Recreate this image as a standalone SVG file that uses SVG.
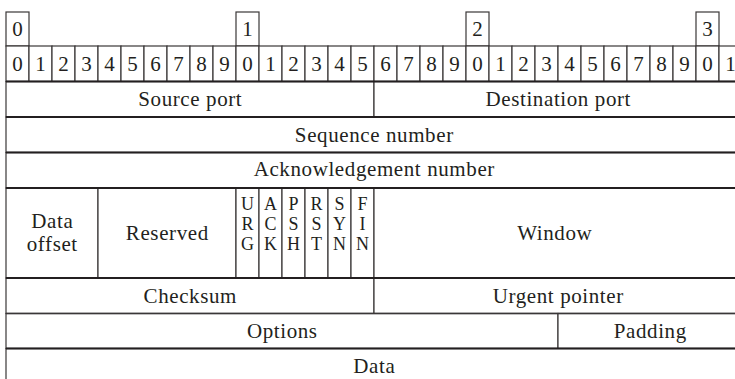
<svg xmlns="http://www.w3.org/2000/svg" width="735" height="379" viewBox="0 0 735 379">
  <style>
    text { font-family: "Liberation Serif", "Times New Roman", serif; font-size: 21px; fill: #231f20; text-anchor: middle; letter-spacing: 0.6px; }
    .num { letter-spacing: 0; }
    .flag { letter-spacing: 0; font-size: 18px; }
    .cell { fill: #ffffff; stroke: #3a3738; stroke-width: 1.2; }
    .rule { stroke: #231f20; stroke-width: 2; fill: none; }
    .rule-thin { stroke: #3a3738; stroke-width: 1.3; fill: none; }
  </style>
  <rect x="0" y="0" width="735" height="379" fill="#ffffff"/>

  <!-- octet markers -->
  <g id="marker-0"><rect class="cell" x="6" y="12" width="23" height="34"/><text class="num" x="17.5" y="36">0</text></g>
  <g id="marker-1"><rect class="cell" x="236" y="12" width="23" height="34"/><text class="num" x="247.5" y="36">1</text></g>
  <g id="marker-2"><rect class="cell" x="466" y="12" width="23" height="34"/><text class="num" x="477.5" y="36">2</text></g>
  <g id="marker-3"><rect class="cell" x="696" y="12" width="23" height="34"/><text class="num" x="707.5" y="36">3</text></g>

  <!-- bit index row -->
  <g id="bit-index">
    <rect class="cell" x="6" y="46" width="23" height="35.5"/><text class="num" x="17.5" y="71">0</text>
    <rect class="cell" x="29" y="46" width="23" height="35.5"/><text class="num" x="40.5" y="71">1</text>
    <rect class="cell" x="52" y="46" width="23" height="35.5"/><text class="num" x="63.5" y="71">2</text>
    <rect class="cell" x="75" y="46" width="23" height="35.5"/><text class="num" x="86.5" y="71">3</text>
    <rect class="cell" x="98" y="46" width="23" height="35.5"/><text class="num" x="109.5" y="71">4</text>
    <rect class="cell" x="121" y="46" width="23" height="35.5"/><text class="num" x="132.5" y="71">5</text>
    <rect class="cell" x="144" y="46" width="23" height="35.5"/><text class="num" x="155.5" y="71">6</text>
    <rect class="cell" x="167" y="46" width="23" height="35.5"/><text class="num" x="178.5" y="71">7</text>
    <rect class="cell" x="190" y="46" width="23" height="35.5"/><text class="num" x="201.5" y="71">8</text>
    <rect class="cell" x="213" y="46" width="23" height="35.5"/><text class="num" x="224.5" y="71">9</text>
    <rect class="cell" x="236" y="46" width="23" height="35.5"/><text class="num" x="247.5" y="71">0</text>
    <rect class="cell" x="259" y="46" width="23" height="35.5"/><text class="num" x="270.5" y="71">1</text>
    <rect class="cell" x="282" y="46" width="23" height="35.5"/><text class="num" x="293.5" y="71">2</text>
    <rect class="cell" x="305" y="46" width="23" height="35.5"/><text class="num" x="316.5" y="71">3</text>
    <rect class="cell" x="328" y="46" width="23" height="35.5"/><text class="num" x="339.5" y="71">4</text>
    <rect class="cell" x="351" y="46" width="23" height="35.5"/><text class="num" x="362.5" y="71">5</text>
    <rect class="cell" x="374" y="46" width="23" height="35.5"/><text class="num" x="385.5" y="71">6</text>
    <rect class="cell" x="397" y="46" width="23" height="35.5"/><text class="num" x="408.5" y="71">7</text>
    <rect class="cell" x="420" y="46" width="23" height="35.5"/><text class="num" x="431.5" y="71">8</text>
    <rect class="cell" x="443" y="46" width="23" height="35.5"/><text class="num" x="454.5" y="71">9</text>
    <rect class="cell" x="466" y="46" width="23" height="35.5"/><text class="num" x="477.5" y="71">0</text>
    <rect class="cell" x="489" y="46" width="23" height="35.5"/><text class="num" x="500.5" y="71">1</text>
    <rect class="cell" x="512" y="46" width="23" height="35.5"/><text class="num" x="523.5" y="71">2</text>
    <rect class="cell" x="535" y="46" width="23" height="35.5"/><text class="num" x="546.5" y="71">3</text>
    <rect class="cell" x="558" y="46" width="23" height="35.5"/><text class="num" x="569.5" y="71">4</text>
    <rect class="cell" x="581" y="46" width="23" height="35.5"/><text class="num" x="592.5" y="71">5</text>
    <rect class="cell" x="604" y="46" width="23" height="35.5"/><text class="num" x="615.5" y="71">6</text>
    <rect class="cell" x="627" y="46" width="23" height="35.5"/><text class="num" x="638.5" y="71">7</text>
    <rect class="cell" x="650" y="46" width="23" height="35.5"/><text class="num" x="661.5" y="71">8</text>
    <rect class="cell" x="673" y="46" width="23" height="35.5"/><text class="num" x="684.5" y="71">9</text>
    <rect class="cell" x="696" y="46" width="23" height="35.5"/><text class="num" x="707.5" y="71">0</text>
    <rect class="cell" x="719" y="46" width="23" height="35.5"/><text class="num" x="730.5" y="71">1</text>
  </g>

  <!-- header fields -->
  <g id="source-port"><rect class="cell" x="6" y="81.5" width="368" height="35.5"/><text x="190.3" y="106">Source port</text></g>
  <g id="destination-port"><rect class="cell" x="374" y="81.5" width="368" height="35.5"/><text x="558.3" y="106">Destination port</text></g>
  <g id="sequence-number"><rect class="cell" x="6" y="117" width="736" height="35.5"/><text x="374.3" y="141.5">Sequence number</text></g>
  <g id="ack-number"><rect class="cell" x="6" y="152.5" width="736" height="35.5"/><text x="374.3" y="176">Acknowledgement number</text></g>

  <g id="data-offset"><rect class="cell" x="6" y="188" width="92" height="90"/><text x="52.3" y="227.5">Data<tspan x="52.3" dy="23.5">offset</tspan></text></g>
  <g id="reserved"><rect class="cell" x="98" y="188" width="138" height="90"/><text x="167.3" y="240">Reserved</text></g>

  <!-- control flags, one letter per line -->
  <g id="flag-urg"><rect class="cell" x="236" y="188" width="23" height="90"/><text class="flag" x="247.5" y="210">U<tspan x="247.5" dy="20">R</tspan><tspan x="247.5" dy="20">G</tspan></text></g>
  <g id="flag-ack"><rect class="cell" x="259" y="188" width="23" height="90"/><text class="flag" x="270.5" y="210">A<tspan x="270.5" dy="20">C</tspan><tspan x="270.5" dy="20">K</tspan></text></g>
  <g id="flag-psh"><rect class="cell" x="282" y="188" width="23" height="90"/><text class="flag" x="293.5" y="210">P<tspan x="293.5" dy="20">S</tspan><tspan x="293.5" dy="20">H</tspan></text></g>
  <g id="flag-rst"><rect class="cell" x="305" y="188" width="23" height="90"/><text class="flag" x="316.5" y="210">R<tspan x="316.5" dy="20">S</tspan><tspan x="316.5" dy="20">T</tspan></text></g>
  <g id="flag-syn"><rect class="cell" x="328" y="188" width="23" height="90"/><text class="flag" x="339.5" y="210">S<tspan x="339.5" dy="20">Y</tspan><tspan x="339.5" dy="20">N</tspan></text></g>
  <g id="flag-fin"><rect class="cell" x="351" y="188" width="23" height="90"/><text class="flag" x="362.5" y="210">F<tspan x="362.5" dy="20">I</tspan><tspan x="362.5" dy="20">N</tspan></text></g>

  <g id="window"><rect class="cell" x="374" y="188" width="368" height="90"/><text x="554.8" y="240">Window</text></g>

  <g id="checksum"><rect class="cell" x="6" y="278" width="368" height="35.5"/><text x="190.3" y="302.5">Checksum</text></g>
  <g id="urgent-pointer"><rect class="cell" x="374" y="278" width="368" height="35.5"/><text x="558.3" y="302.5">Urgent pointer</text></g>
  <g id="options"><rect class="cell" x="6" y="313.5" width="552" height="35"/><text x="282.3" y="337.5">Options</text></g>
  <g id="padding"><rect class="cell" x="558" y="313.5" width="184" height="35"/><text x="650.3" y="337.5">Padding</text></g>
  <g id="data"><rect class="cell" x="6" y="348.5" width="736" height="36"/><text x="374.3" y="373">Data</text></g>

  <!-- heavier row separators -->
  <g id="row-rules">
    <line class="rule" x1="6" y1="81.5" x2="735" y2="81.5"/>
    <line class="rule" x1="6" y1="117" x2="735" y2="117"/>
    <line class="rule" x1="6" y1="152.5" x2="735" y2="152.5"/>
    <line class="rule" x1="6" y1="188" x2="735" y2="188"/>
    <line class="rule" x1="6" y1="278" x2="735" y2="278"/>
    <line class="rule-thin" x1="6" y1="313.5" x2="735" y2="313.5"/>
    <line class="rule" x1="6" y1="348.5" x2="735" y2="348.5"/>
  </g>
</svg>
